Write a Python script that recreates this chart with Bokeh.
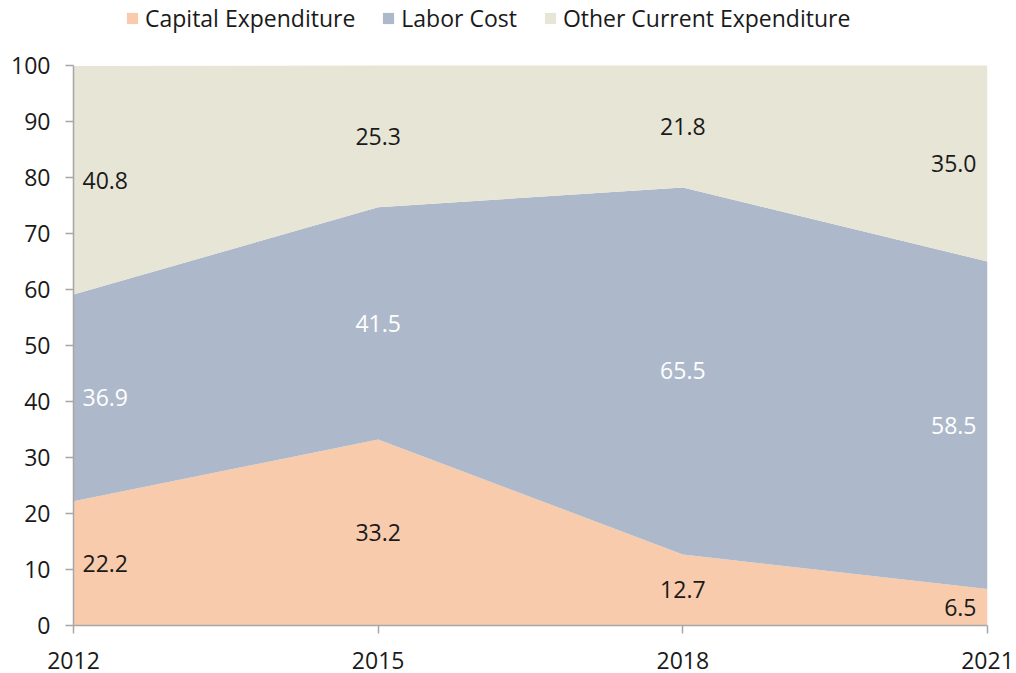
from bokeh.plotting import figure
from bokeh.models import ColumnDataSource, Legend, LegendItem, FixedTicker, Range1d, LabelSet
from bokeh.core.properties import value
from bokeh.embed import file_html
from bokeh.resources import INLINE

years = [2012, 2015, 2018, 2021]
year_labels = ["2012", "2015", "2018", "2021"]
capital = [22.2, 33.2, 12.7, 6.5]
labor = [36.9, 41.5, 65.5, 58.5]
other = [40.8, 25.3, 21.8, 35.0]
series_names = ["Capital Expenditure", "Labor Cost", "Other Current Expenditure"]
colors = ["#F8CBAD", "#ADB9CA", "#E7E5D6"]
label_colors = ["#1a1a1a", "#ffffff", "#1a1a1a"]

FONT = "Open Sans"
FS = "23px"
LFS = "23px"

src = ColumnDataSource(dict(x=years, capital=capital, labor=labor, other=other))

# frame spans from the top of the canvas; values 0..100 occupy the lower part
TOP = 5
p = figure(width=1016, height=673, output_backend="svg", toolbar_location=None,
           x_range=Range1d(2012, 2021), y_range=Range1d(0, 100 + (65 - TOP) / 5.6),
           min_border_left=73, min_border_right=29, min_border_top=TOP, min_border_bottom=48)
p.outline_line_color = None
p.grid.visible = False
p.background_fill_color = "white"

rs = p.varea_stack(["capital", "labor", "other"], x="x", source=src, color=colors)

# labels at segment mid-points
keys = ["capital", "labor", "other"]
base = [0.0] * len(years)
aligns = ["left"] + ["center"] * (len(years) - 2) + ["right"]
xoff = [9] + [0] * (len(years) - 2) + [-11]
for k, vals, col in zip(keys, [capital, labor, other], label_colors):
    mids = [b + v / 2 for b, v in zip(base, vals)]
    base = [b + v for b, v in zip(base, vals)]
    ls = ColumnDataSource(dict(x=years, y=mids, t=[f"{v:.1f}" for v in vals], a=aligns, xo=xoff))
    lab = LabelSet(x="x", y="y", text="t", source=ls, text_align="a", x_offset="xo",
                   text_baseline="middle", text_color=col, text_font=value(FONT),
                   text_font_size=value(FS))
    p.add_layout(lab)

for ax in (p.xaxis[0], p.yaxis[0]):
    ax.axis_line_color = "#A6A6A6"
    ax.major_tick_line_color = "#A6A6A6"
    ax.axis_line_width = 1.5
    ax.major_tick_line_width = 1.5
    ax.minor_tick_line_color = None
    ax.major_tick_in = 0
    ax.major_tick_out = 8
    ax.major_label_text_font = FONT
    ax.major_label_text_font_size = FS
    ax.major_label_text_color = "#1a1a1a"

p.yaxis.bounds = (0, 100)
p.yaxis.ticker = FixedTicker(ticks=list(range(0, 101, 10)))
p.yaxis.major_label_standoff = 15
p.xaxis.ticker = FixedTicker(ticks=years)
p.xaxis.major_label_overrides = {y: l for y, l in zip(years, year_labels)}
p.xaxis.major_label_standoff = 18

legend = Legend(items=[LegendItem(label=n, renderers=[r]) for n, r in zip(series_names, rs)],
                orientation="horizontal", location=(52, 591), padding=0, margin=0,
                glyph_width=14, glyph_height=14, label_standoff=6, spacing=26,
                border_line_color=None, background_fill_alpha=0,
                label_text_font=FONT, label_text_font_size=LFS, label_text_color="#1a1a1a")
p.add_layout(legend, "center")

open("out.html", "w").write(file_html(p, INLINE))
